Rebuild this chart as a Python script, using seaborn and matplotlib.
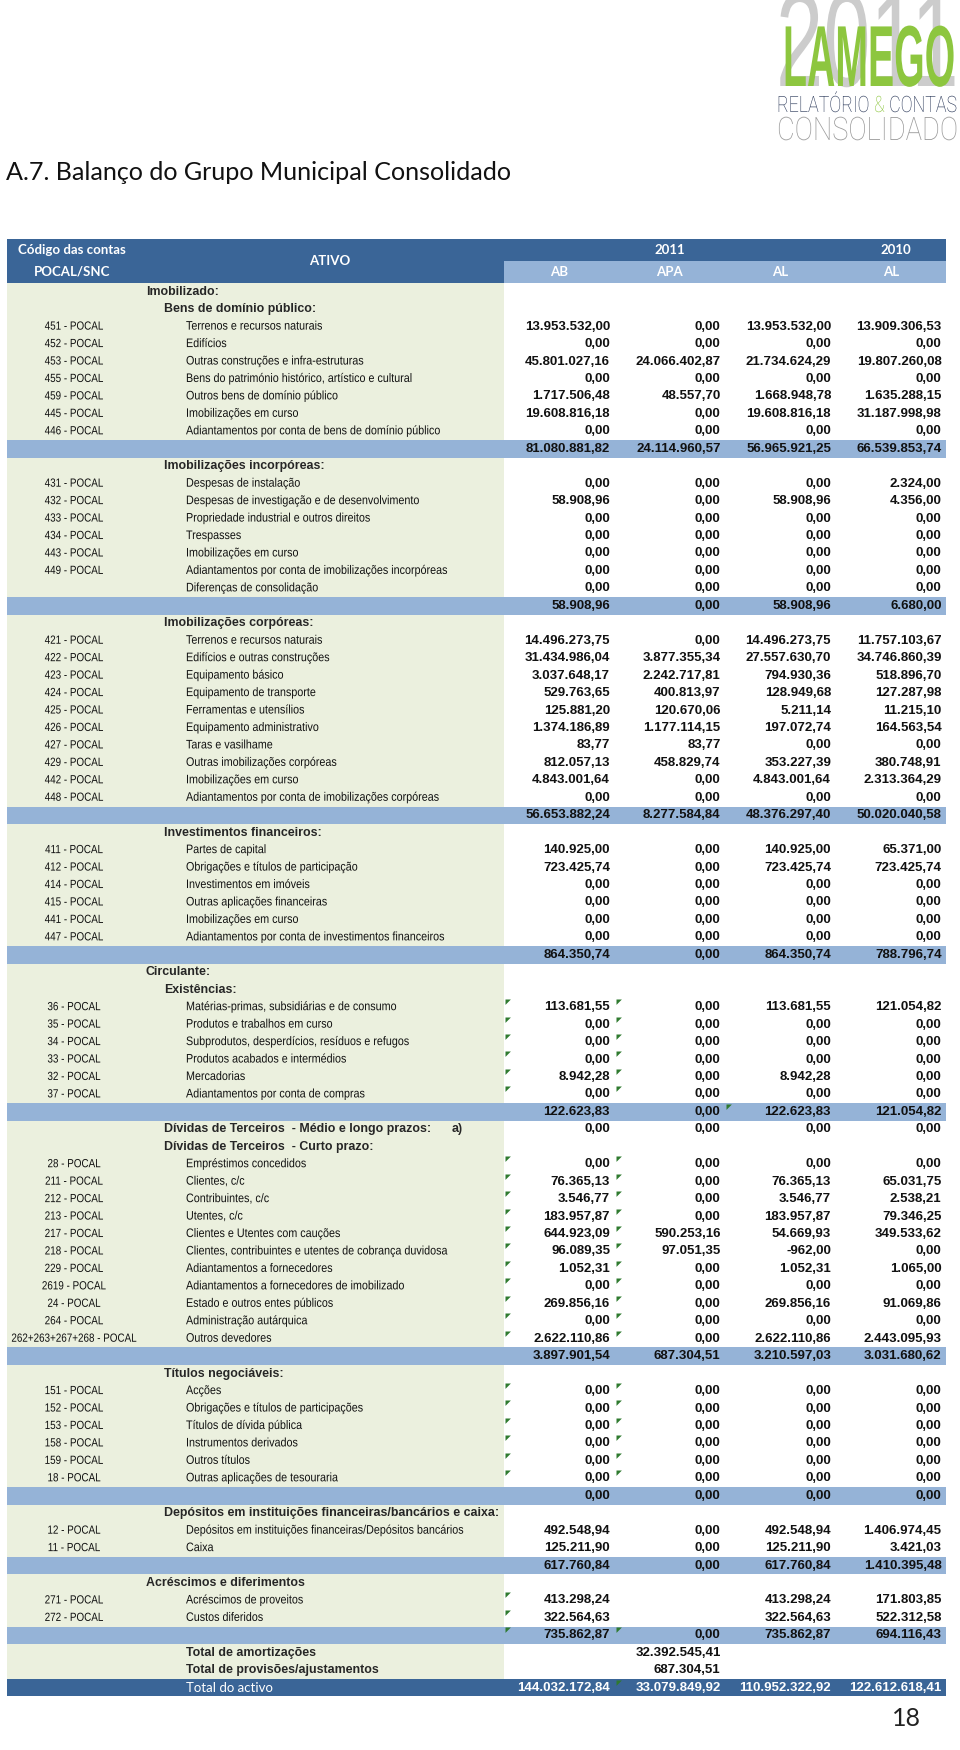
import numpy as np
import matplotlib
matplotlib.use("Agg")
import matplotlib.pyplot as plt
import matplotlib.transforms as mtransforms
from matplotlib.colors import ListedColormap
from matplotlib.patheffects import AbstractPathEffect
import seaborn as sns

N = None

# Row types of the balance sheet (81 rows)
kinds = (['sec1', 'sec2'] + ['item'] * 7 + ['sub']
         + ['sec2'] + ['item'] * 7 + ['sub']
         + ['sec2'] + ['item'] * 10 + ['sub']
         + ['sec2'] + ['item'] * 6 + ['sub']
         + ['sec1', 'sec2'] + ['item'] * 6 + ['sub']
         + ['sec2', 'sec2'] + ['item'] * 11 + ['sub']
         + ['sec2'] + ['item'] * 6 + ['sub']
         + ['sec2'] + ['item'] * 2 + ['sub']
         + ['sec1'] + ['item'] * 2 + ['sub']
         + ['tot2', 'tot2', 'total'])

codes = ['', '', '451', '452', '453', '455', '459', '445', '446', '',
         '', '431', '432', '433', '434', '443', '449', '', '',
         '', '421', '422', '423', '424', '425', '426', '427', '429', '442', '448', '',
         '', '411', '412', '414', '415', '441', '447', '',
         '', '', '36', '35', '34', '33', '32', '37', '',
         '', '', '28', '211', '212', '213', '217', '218', '229', '2619', '24', '264',
         '262+263+267+268', '',
         '', '151', '152', '153', '158', '159', '18', '',
         '', '12', '11', '',
         '', '271', '272', '',
         '', '', '']

labels = ['Imobilizado:', 'Bens de domínio público:',
          'Terrenos e recursos naturais', 'Edifícios', 'Outras construções e infra-estruturas',
          'Bens do património histórico, artístico e cultural', 'Outros bens de domínio público',
          'Imobilizações em curso', 'Adiantamentos por conta de bens de domínio público', '',
          'Imobilizações incorpóreas:',
          'Despesas de instalação', 'Despesas de investigação e de desenvolvimento',
          'Propriedade industrial e outros direitos', 'Trespasses', 'Imobilizações em curso',
          'Adiantamentos por conta de imobilizações incorpóreas', 'Diferenças de consolidação', '',
          'Imobilizações corpóreas:',
          'Terrenos e recursos naturais', 'Edifícios e outras construções', 'Equipamento básico',
          'Equipamento de transporte', 'Ferramentas e utensílios', 'Equipamento administrativo',
          'Taras e vasilhame', 'Outras imobilizações corpóreas', 'Imobilizações em curso',
          'Adiantamentos por conta de imobilizações corpóreas', '',
          'Investimentos financeiros:',
          'Partes de capital', 'Obrigações e títulos de participação', 'Investimentos em imóveis',
          'Outras aplicações financeiras', 'Imobilizações em curso',
          'Adiantamentos por conta de investimentos financeiros', '',
          'Circulante:', 'Existências:',
          'Matérias-primas, subsidiárias e de consumo', 'Produtos e trabalhos em curso',
          'Subprodutos, desperdícios, resíduos e refugos', 'Produtos acabados e intermédios',
          'Mercadorias', 'Adiantamentos por conta de compras', '',
          'Dívidas de Terceiros  - Médio e longo prazos:', 'Dívidas de Terceiros  - Curto prazo:',
          'Empréstimos concedidos', 'Clientes, c/c', 'Contribuintes, c/c', 'Utentes, c/c',
          'Clientes e Utentes com cauções', 'Clientes, contribuintes e utentes de cobrança duvidosa',
          'Adiantamentos a fornecedores', 'Adiantamentos a fornecedores de imobilizado',
          'Estado e outros entes públicos', 'Administração autárquica', 'Outros devedores', '',
          'Títulos negociáveis:',
          'Acções', 'Obrigações e títulos de participações', 'Títulos de dívida pública',
          'Instrumentos derivados', 'Outros títulos', 'Outras aplicações de tesouraria', '',
          'Depósitos em instituições financeiras/bancários e caixa:',
          'Depósitos em instituições financeiras/Depósitos bancários', 'Caixa', '',
          'Acréscimos e diferimentos',
          'Acréscimos de proveitos', 'Custos diferidos', '',
          'Total de amortizações', 'Total de provisões/ajustamentos', 'Total do activo']

# 2011 AB
ab = [N, N, 13953532.00, 0, 45801027.16, 0, 1717506.48, 19608816.18, 0, 81080881.82,
      N, 0, 58908.96, 0, 0, 0, 0, 0, 58908.96,
      N, 14496273.75, 31434986.04, 3037648.17, 529763.65, 125881.20, 1374186.89, 83.77,
      812057.13, 4843001.64, 0, 56653882.24,
      N, 140925.00, 723425.74, 0, 0, 0, 0, 864350.74,
      N, N, 113681.55, 0, 0, 0, 8942.28, 0, 122623.83,
      0, N, 0, 76365.13, 3546.77, 183957.87, 644923.09, 96089.35, 1052.31, 0, 269856.16, 0,
      2622110.86, 3897901.54,
      N, 0, 0, 0, 0, 0, 0, 0,
      N, 492548.94, 125211.90, 617760.84,
      N, 413298.24, 322564.63, 735862.87,
      N, N, 144032172.84]

# 2011 APA
apa = [N, N, 0, 0, 24066402.87, 0, 48557.70, 0, 0, 24114960.57,
       N, 0, 0, 0, 0, 0, 0, 0, 0,
       N, 0, 3877355.34, 2242717.81, 400813.97, 120670.06, 1177114.15, 83.77,
       458829.74, 0, 0, 8277584.84,
       N, 0, 0, 0, 0, 0, 0, 0,
       N, N, 0, 0, 0, 0, 0, 0, 0,
       0, N, 0, 0, 0, 0, 590253.16, 97051.35, 0, 0, 0, 0, 0, 687304.51,
       N, 0, 0, 0, 0, 0, 0, 0,
       N, 0, 0, 0,
       N, N, N, 0,
       32392545.41, 687304.51, 33079849.92]

# 2011 AL
al = [N, N, 13953532.00, 0, 21734624.29, 0, 1668948.78, 19608816.18, 0, 56965921.25,
      N, 0, 58908.96, 0, 0, 0, 0, 0, 58908.96,
      N, 14496273.75, 27557630.70, 794930.36, 128949.68, 5211.14, 197072.74, 0,
      353227.39, 4843001.64, 0, 48376297.40,
      N, 140925.00, 723425.74, 0, 0, 0, 0, 864350.74,
      N, N, 113681.55, 0, 0, 0, 8942.28, 0, 122623.83,
      0, N, 0, 76365.13, 3546.77, 183957.87, 54669.93, -962.00, 1052.31, 0, 269856.16, 0,
      2622110.86, 3210597.03,
      N, 0, 0, 0, 0, 0, 0, 0,
      N, 492548.94, 125211.90, 617760.84,
      N, 413298.24, 322564.63, 735862.87,
      N, N, 110952322.92]

# 2010 AL
al10 = [N, N, 13909306.53, 0, 19807260.08, 0, 1635288.15, 31187998.98, 0, 66539853.74,
        N, 2324.00, 4356.00, 0, 0, 0, 0, 0, 6680.00,
        N, 11757103.67, 34746860.39, 518896.70, 127287.98, 11215.10, 164563.54, 0,
        380748.91, 2313364.29, 0, 50020040.58,
        N, 65371.00, 723425.74, 0, 0, 0, 0, 788796.74,
        N, N, 121054.82, 0, 0, 0, 0, 0, 121054.82,
        0, N, 0, 65031.75, 2538.21, 79346.25, 349533.62, 0, 1065.00, 0, 91069.86, 0,
        2443095.93, 3031680.62,
        N, 0, 0, 0, 0, 0, 0, 0,
        N, 1406974.45, 3421.03, 1410395.48,
        N, 171803.85, 522312.58, 694116.43,
        N, N, 122612618.41]

years = ['2011', '2010']
sub_cols = ['AB', 'APA', 'AL', 'AL']

# cells carrying the small green excel markers
both = [41, 42, 43, 44, 45, 46, 50, 51, 52, 53, 54, 55, 56, 57, 58, 59, 60,
        63, 64, 65, 66, 67, 68, 77]
mark_rows = both + both + [75, 76, 47, 80]
mark_cols = [0] * len(both) + [1] * len(both) + [0, 0, 2, 1]


def fmt(v):
    s = f"{v:,.2f}"
    return s.replace(",", "X").replace(".", ",").replace("X", ".")


class Stretch(AbstractPathEffect):
    """draw the glyphs taller around the baseline (text stays a real text artist)"""
    def __init__(self, sy=1.0):
        super().__init__()
        self.sy = sy

    def draw_path(self, renderer, gc, tpath, affine, rgbFace=None):
        renderer.draw_path(gc, tpath, mtransforms.Affine2D().scale(1.0, self.sy) + affine, rgbFace)


sns.set_theme(style="white")
plt.rcParams['font.family'] = ['Liberation Sans', 'DejaVu Sans']

desc_font = dict(family=['Liberation Sans'], fontsize=7.75, path_effects=[Stretch(1.15)])
code_font = dict(family=['Liberation Sans'], fontsize=7.1, path_effects=[Stretch(1.2)])
bold_font = dict(family=['Liberation Sans'], fontsize=8.95, fontweight='bold')
num_font = dict(family=['Liberation Sans'], fontsize=9.5, fontweight='bold')
head_font = dict(family=['Lato', 'DejaVu Sans'], fontsize=9.5, fontweight='bold', color='white')

W, H = 960, 1750
fig = plt.figure(figsize=(W / 100, H / 100), dpi=100)
fig.patch.set_facecolor('white')
renderer = fig.canvas.get_renderer()


def px_axes(x0, y0, x1, y1):
    return fig.add_axes([x0 / W, 1 - y1 / H, (x1 - x0) / W, (y1 - y0) / H])


def clean(ax):
    ax.tick_params(length=0)
    for s in ax.spines.values():
        s.set_visible(False)


cmap = ListedColormap(['#FFFFFF', '#EBF0DE', '#95B3D7', '#3A6597'])
hm = dict(cmap=cmap, vmin=-0.5, vmax=3.5, cbar=False, xticklabels=False, yticklabels=False)

XL, XM, XR = 7, 504, 946
HT, HB = 239, 283
ROW_H = 17.45
n = len(kinds)
DB = HB + n * ROW_H

# header
ax_hl = px_axes(XL, HT, XM, HB)
sns.heatmap(np.array([[3], [3]]), ax=ax_hl, **hm)
clean(ax_hl)
tl = mtransforms.blended_transform_factory(ax_hl.transAxes, ax_hl.transData)
ax_hl.text(0.13, 0.5, 'Código das contas', ha='center', va='center', transform=tl, **head_font)
ax_hl.text(0.13, 1.5, 'POCAL/SNC', ha='center', va='center', transform=tl, **head_font)
ax_hl.text(0.65, 1.0, 'ATIVO', ha='center', va='center', transform=tl, **head_font)

ax_hr = px_axes(XM, HT, XR, HB)
sns.heatmap(np.array([[3, 3, 3, 3], [2, 2, 2, 2]]), ax=ax_hr, **hm)
clean(ax_hr)
ax_hr.text(1.5, 0.5, years[0], ha='center', va='center', **head_font)
ax_hr.text(3.55, 0.5, years[1], ha='center', va='center', **head_font)
for c, lab in enumerate(sub_cols):
    ax_hr.text(c + 0.5, 1.5, lab, ha='center', va='center', **head_font)

# body backgrounds
left_code = {'sub': 2, 'total': 3}
ax_l = px_axes(XL, HB, XM, DB)
sns.heatmap(np.array([[left_code.get(k, 1)] for k in kinds]), ax=ax_l, **hm)
clean(ax_l)
ax_r = px_axes(XM, HB, XR, DB)
sns.heatmap(np.array([[left_code.get(k, 0)] * 4 for k in kinds]), ax=ax_r, **hm)
clean(ax_r)

tr = mtransforms.blended_transform_factory(ax_l.transAxes, ax_l.transData)
fx = lambda x: (x - XL) / (XM - XL)

for i, k in enumerate(kinds):
    y = i + 0.5
    if k == 'item':
        if codes[i]:
            ax_l.text(fx(74), y, codes[i] + ' - POCAL', ha='center', va='center', transform=tr,
                      color='#111111', **code_font)
        ax_l.text(fx(186), y, labels[i], ha='left', va='center', transform=tr,
                  color='#111111', **desc_font)
    elif k == 'sec1':
        ax_l.text(fx(146), y, labels[i], ha='left', va='center', transform=tr, **bold_font)
    elif k == 'sec2':
        ax_l.text(fx(164), y, labels[i], ha='left', va='center', transform=tr, **bold_font)
        if labels[i].startswith('Dívidas de Terceiros  - Médio'):
            ax_l.text(fx(452), y, 'a)', ha='left', va='center', transform=tr, **bold_font)
    elif k == 'tot2':
        ax_l.text(fx(186), y, labels[i], ha='left', va='center', transform=tr, **bold_font)
    elif k == 'total':
        ax_l.text(fx(186), y, labels[i], ha='left', va='center', transform=tr,
                  color='white', family=['Lato', 'DejaVu Sans'], fontsize=9.5)
    col = 'white' if k == 'total' else '#111111'
    for c, series in enumerate([ab, apa, al, al10]):
        v = series[i]
        if v is not None:
            ax_r.text(c + 1 - 0.04, y, fmt(v), ha='right', va='center', color=col, **num_font)

# green comment markers at top-left of cells
ax_r.scatter(np.array(mark_cols) + 0.012, np.array(mark_rows) + 0.04,
             marker=[(0, 0), (1, 0), (0, -1)], s=60, c='#2F7A2F', linewidths=0,
             clip_on=False, zorder=5)


def fit_text(t, width):
    w = t.get_window_extent(renderer).width
    t.set_fontsize(t.get_fontsize() * width / w)


def logo_text(x, base, s, width, cap, color, capfrac=0.716, zorder=2, **kw):
    # width from the font size, height from a stretch around the baseline
    t = fig.text(x / W, 1 - base / H, s, ha='left', va='baseline', color=color,
                 fontsize=20, zorder=zorder, **kw)
    fit_text(t, width)
    sy = cap / (capfrac * t.get_fontsize() / 0.72)
    t.set_path_effects([Stretch(sy)])
    return t


# title
title = fig.text(6 / W, 1 - 180 / H, 'A.7. Balanço do Grupo Municipal Consolidado',
                 ha='left', va='baseline', family=['Lato', 'DejaVu Sans'], fontsize=18, color='#111111')
fit_text(title, 505)

# logo
logo_text(776, 86, '2011', 183, 96, '#CCCCCC', zorder=1, family=['Liberation Sans'])
logo_text(783, 86, 'LAMEGO', 172, 62, '#8DC63F', zorder=2, family=['Liberation Sans'],
          fontweight='bold')

light = dict(family=['Roboto', 'DejaVu Sans'], fontweight='light')
probe = fig.text(0, 0, 'RELATÓRIO & CONTAS', fontsize=10, **light)
fs = 10 * 180 / probe.get_window_extent(renderer).width
probe.remove()
sy = 16 / (0.711 * fs / 0.72)
x = 777
for s, c in [('RELATÓRIO', '#1E2D4F'), ('&', '#8DC63F'), ('CONTAS', '#1E2D4F')]:
    fig.text(x / W, 1 - 112 / H, s, ha='left', va='baseline', color=c, fontsize=fs,
             path_effects=[Stretch(sy)], zorder=2, **light)
    sp = fig.text(0, 0, s + ' ', fontsize=fs, **light)
    x += sp.get_window_extent(renderer).width
    sp.remove()
logo_text(777, 140, 'CONSOLIDADO', 181, 23, '#9A9A9A', capfrac=0.711, **light)

# page number
fig.text(906 / W, 1 - 1719 / H, '18', ha='center', va='center', family=['Lato', 'DejaVu Sans'],
         fontsize=18, color='#222222')

fig.savefig('out.png', dpi=100, facecolor='white')
